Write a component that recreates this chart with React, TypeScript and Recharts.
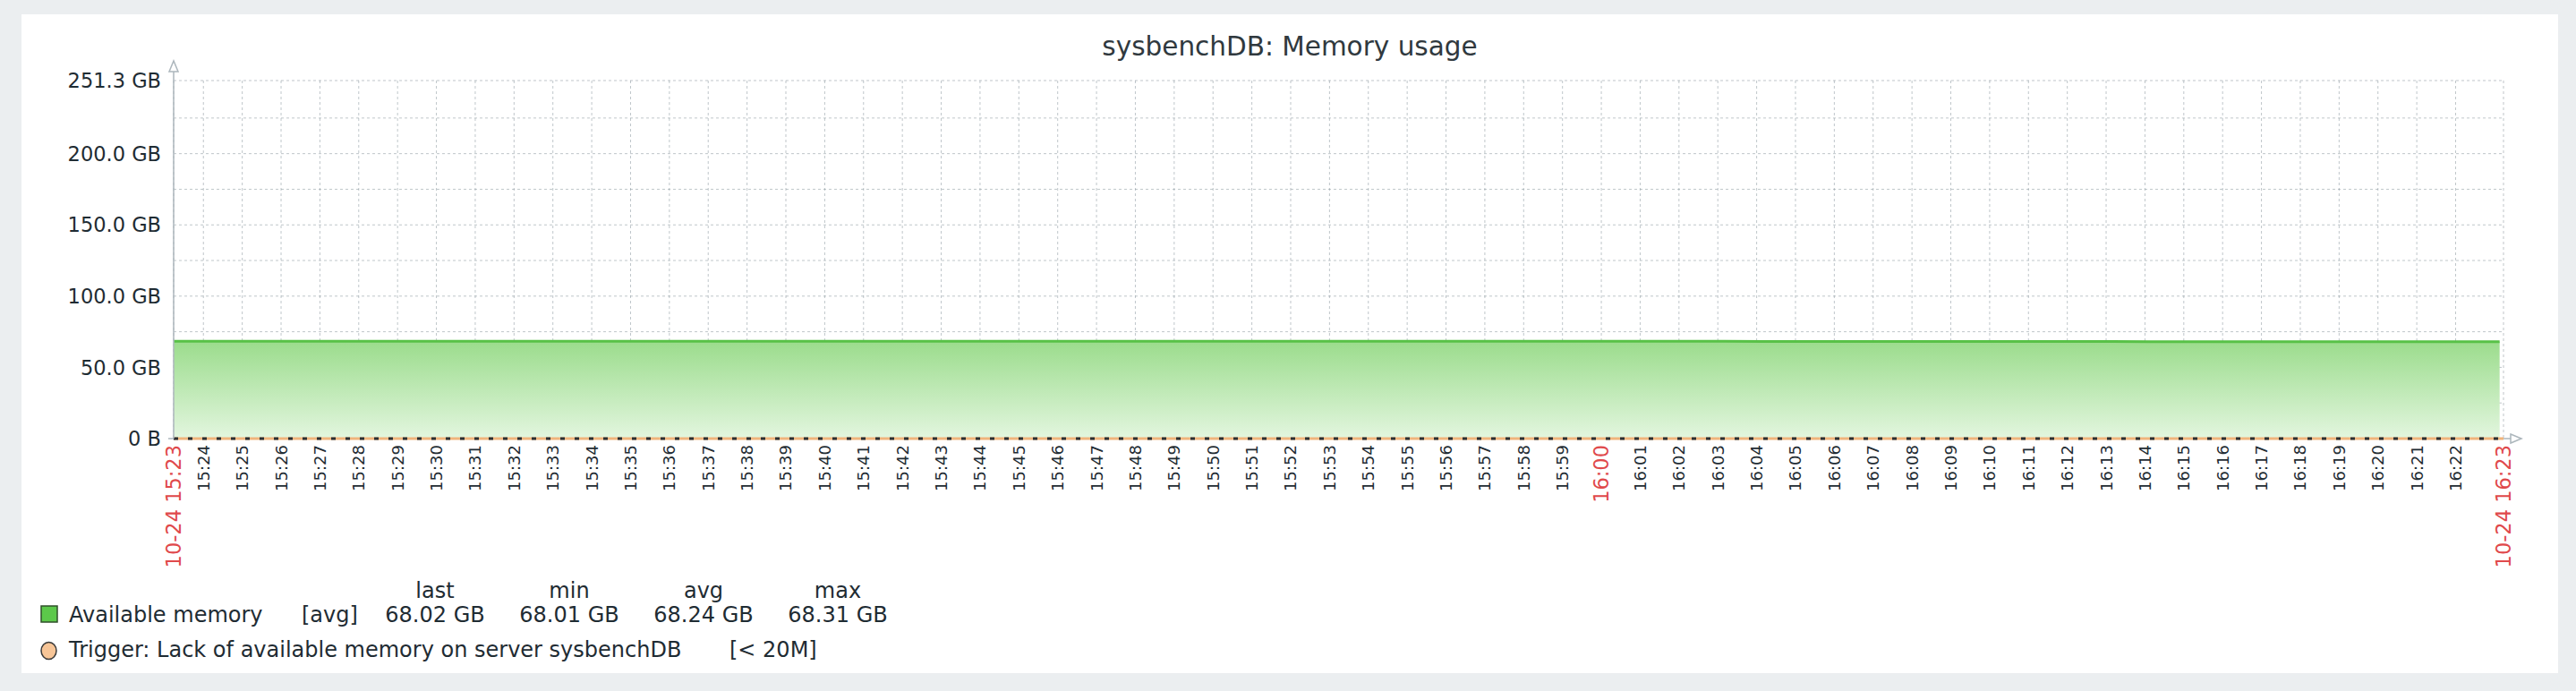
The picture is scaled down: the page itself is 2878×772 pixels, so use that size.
import {
  Area,
  CartesianGrid,
  ComposedChart,
  ReferenceLine,
  XAxis,
  YAxis,
} from "recharts";

const title = "sysbenchDB: Memory usage";

// time range of the graph (15:23:14 -> 16:23:14)
const rangeStartSec = 15 * 3600 + 23 * 60 + 14;
const rangeEndSec = 16 * 3600 + 23 * 60 + 14;
const edgeLabels = ["10-24 15:23", "10-24 16:23"];
const sampleStepSec = 59.9;

const minuteLabels = [
  "15:24", "15:25", "15:26", "15:27", "15:28", "15:29", "15:30", "15:31", "15:32", "15:33",
  "15:34", "15:35", "15:36", "15:37", "15:38", "15:39", "15:40", "15:41", "15:42", "15:43",
  "15:44", "15:45", "15:46", "15:47", "15:48", "15:49", "15:50", "15:51", "15:52", "15:53",
  "15:54", "15:55", "15:56", "15:57", "15:58", "15:59", "16:00", "16:01", "16:02", "16:03",
  "16:04", "16:05", "16:06", "16:07", "16:08", "16:09", "16:10", "16:11", "16:12", "16:13",
  "16:14", "16:15", "16:16", "16:17", "16:18", "16:19", "16:20", "16:21", "16:22",
];
const highlightedMinutes = ["16:00"];

// Available memory, GB (one sample per minute)
const availableMemoryGB = [
  68.31, 68.31, 68.3, 68.31, 68.3, 68.31, 68.31, 68.3, 68.31, 68.3,
  68.3, 68.31, 68.3, 68.3, 68.31, 68.3, 68.3, 68.31, 68.3, 68.3,
  68.29, 68.3, 68.29, 68.29, 68.3, 68.29, 68.29, 68.28, 68.29, 68.29,
  68.28, 68.28, 68.27, 68.28, 68.27, 68.27, 68.26, 68.27, 68.26, 68.26,
  68.25, 68.24, 68.23, 68.22, 68.2, 68.18, 68.16, 68.14, 68.12, 68.1,
  68.09, 68.07, 68.06, 68.05, 68.04, 68.03, 68.03, 68.02, 68.01, 68.02, 68.02,
];

const yMax = 251.3;
const yTickValues = [0, 25, 50, 75, 100, 125, 150, 175, 200, 225, 251.3];
const yTickLabels = ["0 B", "", "50.0 GB", "", "100.0 GB", "", "150.0 GB", "", "200.0 GB", "", "251.3 GB"];

const triggerThresholdGB = 0.02; // 20M

const legendColumns = ["last", "min", "avg", "max"];
const seriesName = "Available memory";
const seriesFunc = "[avg]";
const seriesStats = ["68.02 GB", "68.01 GB", "68.24 GB", "68.31 GB"];
const triggerName = "Trigger: Lack of available memory on server sysbenchDB";
const triggerCond = "[< 20M]";

const W = 2878;
const H = 772;
const PLOT_LEFT = 194;
const PLOT_RIGHT = 2797;
const PLOT_TOP = 90;
const PLOT_BOTTOM = 490;
const Y_AXIS_W = 100;
const X_AXIS_H = 150;

const FONT = "'DejaVu Sans', sans-serif";
const TEXT = "#1f2c33";
const RED = "#e0494b";
const AXIS = "#acb6bc";
const LEGEND_FS = 24;

const toSec = (hm: string) => {
  const [h, m] = hm.split(":").map(Number);
  return h * 3600 + m * 60;
};

const data = availableMemoryGB.map((v, i) => ({
  t: rangeStartSec + i * sampleStepSec,
  mem: v,
}));

const xTicks = [rangeStartSec, ...minuteLabels.map(toSec), rangeEndSec];

const xLabel = (v: number) => {
  if (v === rangeStartSec) return { text: edgeLabels[0], red: true };
  if (v === rangeEndSec) return { text: edgeLabels[1], red: true };
  const idx = minuteLabels.findIndex((m) => toSec(m) === v);
  const text = idx >= 0 ? minuteLabels[idx] : "";
  return { text, red: highlightedMinutes.includes(text) };
};

function TimeTick(props: any) {
  const { x, y, payload } = props;
  const { text, red } = xLabel(payload.value);
  return (
    <text
      x={0}
      y={0}
      dy="0.36em"
      transform={`translate(${x},${y}) rotate(-90)`}
      textAnchor="end"
      fontFamily={FONT}
      fontSize={red ? 22.5 : 18}
      fill={red ? RED : TEXT}
    >
      {text}
    </text>
  );
}

function ValueTick(props: any) {
  const { x, y, payload } = props;
  const idx = yTickValues.indexOf(payload.value);
  return (
    <text x={x} y={y} dy="0.36em" textAnchor="end" fontFamily={FONT} fontSize={22.5} fill={TEXT}>
      {idx >= 0 ? yTickLabels[idx] : ""}
    </text>
  );
}

const colX = [486, 636, 786, 936];

export default function App() {
  return (
    <div style={{ position: "relative", width: W, height: H, background: "#ebeef0" }}>
      <style>{"body{margin:0}"}</style>
      <div
        style={{ position: "absolute", left: 24, top: 16, width: 2834, height: 736, background: "#fff" }}
      />
      <div style={{ position: "absolute", left: 0, top: 0 }}>
        <ComposedChart
          width={W}
          height={H}
          data={data}
          margin={{
            top: PLOT_TOP,
            right: W - PLOT_RIGHT,
            left: PLOT_LEFT - Y_AXIS_W,
            bottom: H - PLOT_BOTTOM - X_AXIS_H,
          }}
        >
          <defs>
            <linearGradient id="memFill" x1="0" y1="0" x2="0" y2="1">
              <stop offset="0%" stopColor="#9bdc8c" />
              <stop offset="100%" stopColor="#e3f6df" />
            </linearGradient>
          </defs>
          <XAxis
            dataKey="t"
            type="number"
            domain={[rangeStartSec, rangeEndSec]}
            ticks={xTicks}
            interval={0}
            height={X_AXIS_H}
            tick={<TimeTick />}
            tickLine={false}
            axisLine={false}
            tickSize={0}
            tickMargin={7}
            allowDataOverflow
          />
          <YAxis
            type="number"
            domain={[0, yMax]}
            ticks={yTickValues}
            interval={0}
            width={Y_AXIS_W}
            tick={<ValueTick />}
            tickLine={false}
            axisLine={false}
            tickSize={6}
            tickMargin={8}
            allowDataOverflow
          />
          <Area
            dataKey="mem"
            type="linear"
            stroke="#58c147"
            strokeWidth={3}
            fill="url(#memFill)"
            fillOpacity={1}
            dot={false}
            activeDot={false}
            isAnimationActive={false}
          />
          <CartesianGrid
            stroke="#8b989f"
            strokeOpacity={0.55}
            strokeDasharray="3 3"
            syncWithTicks
          />
          <ReferenceLine y={triggerThresholdGB} stroke="#f0b47c" strokeWidth={3} />
          <ReferenceLine
            y={triggerThresholdGB}
            stroke="#2a2f33"
            strokeWidth={3}
            strokeDasharray="5 11"
          />
        </ComposedChart>
      </div>
      <svg
        width={W}
        height={H}
        style={{ position: "absolute", left: 0, top: 0, pointerEvents: "none" }}
        fontFamily={FONT}
      >
        <text x={1441} y={62} textAnchor="middle" fontSize={29.5} fill="#30393e">
          {title}
        </text>
        {/* axes with arrows */}
        <line x1={PLOT_LEFT} y1={PLOT_TOP - 10} x2={PLOT_LEFT} y2={PLOT_BOTTOM} stroke={AXIS} strokeWidth={1.5} />
        <polygon
          points={`${PLOT_LEFT - 5},${PLOT_TOP - 10} ${PLOT_LEFT},${PLOT_TOP - 22} ${PLOT_LEFT + 5},${PLOT_TOP - 10}`}
          fill="#fff"
          stroke={AXIS}
          strokeWidth={1.5}
        />
        <line x1={PLOT_LEFT - 6} y1={PLOT_BOTTOM} x2={PLOT_LEFT} y2={PLOT_BOTTOM} stroke={AXIS} strokeWidth={1.5} />
        <line x1={PLOT_RIGHT} y1={PLOT_BOTTOM} x2={PLOT_RIGHT + 8} y2={PLOT_BOTTOM} stroke={AXIS} strokeWidth={1.5} />
        <polygon
          points={`${PLOT_RIGHT + 8},${PLOT_BOTTOM - 5} ${PLOT_RIGHT + 20},${PLOT_BOTTOM} ${PLOT_RIGHT + 8},${PLOT_BOTTOM + 5}`}
          fill="#fff"
          stroke={AXIS}
          strokeWidth={1.5}
        />
        {/* legend */}
        {legendColumns.map((c, i) => (
          <text key={c} x={colX[i]} y={668} textAnchor="middle" fontSize={LEGEND_FS} fill={TEXT}>
            {c}
          </text>
        ))}
        <rect x={46} y={677} width={18} height={18} fill="#5cc84a" stroke="#2f4f2a" strokeWidth={1.5} />
        <text x={77} y={695} fontSize={LEGEND_FS} fill={TEXT}>
          {seriesName}
        </text>
        <text x={337} y={695} fontSize={LEGEND_FS} fill={TEXT}>
          {seriesFunc}
        </text>
        {seriesStats.map((s, i) => (
          <text key={i} x={colX[i]} y={695} textAnchor="middle" fontSize={LEGEND_FS} fill={TEXT}>
            {s}
          </text>
        ))}
        <ellipse cx={54.5} cy={727} rx={8.5} ry={9.5} fill="#f7c597" stroke="#3a3a3a" strokeWidth={1.5} />
        <text x={77} y={734} fontSize={LEGEND_FS} fill={TEXT}>
          {triggerName}
        </text>
        <text x={815} y={734} fontSize={LEGEND_FS} fill={TEXT}>
          {triggerCond}
        </text>
      </svg>
    </div>
  );
}
